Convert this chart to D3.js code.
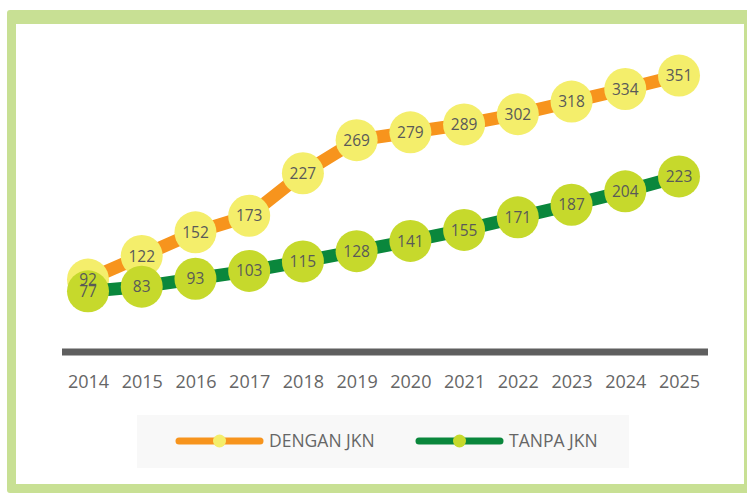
<!DOCTYPE html>
<html>
<head>
<meta charset="utf-8">
<script src="https://cdn.jsdelivr.net/npm/d3@7"></script>
<style>
  body { margin: 0; background: #fff; }
  svg { display: block; font-family: "Open Sans", sans-serif; }
</style>
</head>
<body>
<div id="chart"></div>
<script>
// data
const years = ["2014", "2015", "2016", "2017", "2018", "2019", "2020", "2021", "2022", "2023", "2024", "2025"];
const denganJkn = [92, 122, 152, 173, 227, 269, 279, 289, 302, 318, 334, 351];
const tanpaJkn = [77, 83, 93, 103, 115, 128, 141, 155, 171, 187, 204, 223];
const seriesNames = ["DENGAN JKN", "TANPA JKN"];

const width = 747, height = 495;

const svg = d3.select("#chart")
    .append("svg")
    .attr("width", width)
    .attr("height", height);

// green frame
svg.append("rect")
    .attr("x", 7).attr("y", 10)
    .attr("width", 760).attr("height", 483)
    .attr("rx", 3)
    .attr("fill", "#c8e094");
svg.append("rect")
    .attr("x", 16).attr("y", 24)
    .attr("width", 728).attr("height", 460)
    .attr("fill", "#ffffff");

// scales
const xScale = d3.scalePoint().domain(years).range([88, 679]);
const yScale = d3.scaleLinear().domain([0, 400]).range([352, 37]);

// baseline bar
svg.append("line")
    .attr("x1", 62).attr("x2", 708)
    .attr("y1", yScale(0)).attr("y2", yScale(0))
    .attr("stroke", "#5f5f5f")
    .attr("stroke-width", 7);

// year labels
const xAxis = svg.append("g")
    .attr("transform", `translate(0,${yScale(0)})`)
    .call(d3.axisBottom(xScale).tickSize(0).tickPadding(23));
xAxis.select(".domain").remove();
xAxis.selectAll("text")
    .attr("font-family", "Open Sans, sans-serif")
    .attr("font-size", 18)
    .attr("fill", "#666666");

const series = [
    { name: seriesNames[0], values: denganJkn, line: "#f7941d", dot: "#f4ee6b" },
    { name: seriesNames[1], values: tanpaJkn, line: "#0a873c", dot: "#c6d92c" }
];

const line = d3.line()
    .x((d, i) => xScale(years[i]))
    .y(d => yScale(d));

// lines and circles, series by series
series.forEach(s => {
    svg.append("path")
        .datum(s.values)
        .attr("fill", "none")
        .attr("stroke", s.line)
        .attr("stroke-width", 13)
        .attr("stroke-linejoin", "round")
        .attr("d", line);

    svg.append("g")
        .selectAll("circle")
        .data(s.values)
        .join("circle")
        .attr("cx", (d, i) => xScale(years[i]))
        .attr("cy", d => yScale(d))
        .attr("r", 21)
        .attr("fill", s.dot);
});

// value labels on top of everything
series.forEach(s => {
    svg.append("g")
        .selectAll("text")
        .data(s.values)
        .join("text")
        .attr("x", (d, i) => xScale(years[i]))
        .attr("y", d => yScale(d))
        .attr("text-anchor", "middle")
        .attr("dy", "0.36em")
        .attr("font-size", 15.5)
        .attr("fill", "#595959")
        .text(d => d);
});

// legend
svg.append("rect")
    .attr("x", 137).attr("y", 415)
    .attr("width", 492).attr("height", 53)
    .attr("fill", "#f8f8f8");

const legendX = [176, 416];
series.forEach((s, i) => {
    const g = svg.append("g").attr("transform", `translate(${legendX[i]},441)`);
    g.append("line")
        .attr("x1", 3).attr("x2", 84)
        .attr("stroke", s.line)
        .attr("stroke-width", 7)
        .attr("stroke-linecap", "round");
    g.append("circle")
        .attr("cx", 43.5)
        .attr("r", 6.5)
        .attr("fill", s.dot);
    g.append("text")
        .attr("x", 93)
        .attr("dy", "0.36em")
        .attr("font-size", 17.5)
        .attr("fill", "#666666")
        .text(s.name);
});
</script>
</body>
</html>
